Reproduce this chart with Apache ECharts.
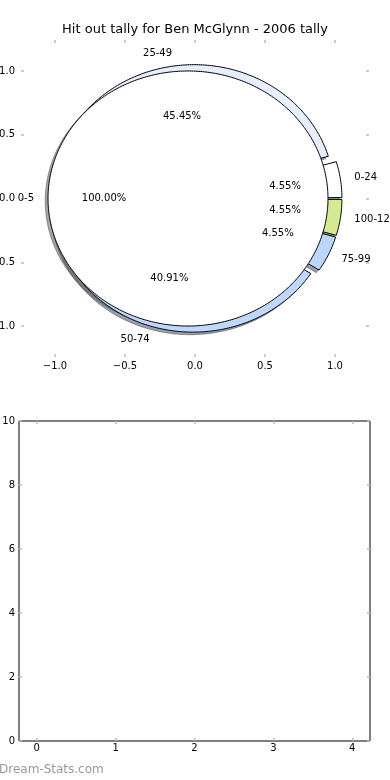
<!DOCTYPE html>
<html>
<head>
<meta charset="utf-8">
<script src="https://cdn.jsdelivr.net/npm/echarts@6/dist/echarts.min.js"></script>
<style>
  html, body { margin: 0; padding: 0; background: #fff; }
  #chart { width: 390px; height: 780px; }
</style>
</head>
<body>
<div id="chart"></div>
<script>
// ---- data ----
const chartTitle = 'Hit out tally for Ben McGlynn - 2006 tally';
const outerLabels = ['0-24', '25-49', '50-74', '75-99', '100-124'];
const outerCounts = [1, 10, 9, 1, 1];
const outerColors = ['#ffffff', '#e6eeff', '#bfd8ff', '#bcd7ff', '#d4eb91'];
const innerLabels = ['0-5'];
const innerCounts = [1];
const innerColors = ['#ffffff'];
const pieTicks = [-1, -0.5, 0, 0.5, 1];
const lowerXTicks = [0, 1, 2, 3, 4];
const watermark = 'Dream-Stats.com';

// ---- styling constants ----
const FONT = 'DejaVu Sans';
const EXPLODE = 0.05;
const RADIUS = 1;
const SHADOW_OFF = -0.02;
const LABEL_DIST = 1.1;
const PCT_DIST = 0.6;
const TICK_COLOR = '#bbbbbb';

function buildWedges(counts) {
  const total = counts.reduce((a, b) => a + b, 0);
  let start = 0;
  return counts.map(c => {
    const span = 360 * c / total;
    const t1 = start, t2 = start + span;
    start = t2;
    const mid = (t1 + t2) / 2 * Math.PI / 180;
    return {
      t1, t2, full: Math.abs(span - 360) < 1e-9,
      dx: EXPLODE * Math.cos(mid), dy: EXPLODE * Math.sin(mid),
      cos: Math.cos(mid), sin: Math.sin(mid),
      pct: (100 * c / total).toFixed(2) + '%'
    };
  });
}
const outerWedges = buildWedges(outerCounts);
const innerWedges = buildWedges(innerCounts);

const allWedges = outerWedges.map((w, i) => ({ w, color: outerColors[i], label: outerLabels[i] }))
  .concat(innerWedges.map((w, i) => ({ w, color: innerColors[i], label: innerLabels[i] })));

function wedgePoints(api, cx, cy, w) {
  const pts = [];
  if (!w.full) pts.push(api.coord([cx, cy]));
  const n = Math.max(4, Math.ceil((w.t2 - w.t1) / 0.75));
  for (let k = 0; k <= n; k++) {
    const a = (w.t1 + (w.t2 - w.t1) * k / n) * Math.PI / 180;
    pts.push(api.coord([cx + RADIUS * Math.cos(a), cy + RADIUS * Math.sin(a)]));
  }
  return pts;
}
function shadeColor(hex) {
  const r = parseInt(hex.slice(1, 3), 16), g = parseInt(hex.slice(3, 5), 16), b = parseInt(hex.slice(5, 7), 16);
  return 'rgba(' + (0.3 * r).toFixed(1) + ',' + (0.3 * g).toFixed(1) + ',' + (0.3 * b).toFixed(1) + ',0.5)';
}
function fmtTick(v) {
  const s = Math.abs(v).toFixed(1);
  return v < 0 ? '\u2212' + s : s;
}

const tickStyle = { show: true, inside: true, length: 3, lineStyle: { color: TICK_COLOR, width: 1.5 } };
const labelBase = { fontSize: 10, fontFamily: FONT, color: '#000' };
const noLine = { show: false, onZero: false };

const chart = echarts.init(document.getElementById('chart'), null, { renderer: 'canvas' });

const option = {
  animation: false,
  backgroundColor: '#ffffff',
  title: {
    text: chartTitle, left: 'center', top: 23, padding: 0,
    textStyle: { fontSize: 13, fontWeight: 'normal', fontFamily: FONT, color: '#000' }
  },
  grid: [
    { left: 21, top: 40, width: 348, height: 317, show: false, outerBoundsMode: 'none', containLabel: false },
    { left: 19, top: 421, width: 351, height: 320, show: true, borderColor: '#000', borderWidth: 1,
      backgroundColor: 'transparent', outerBoundsMode: 'none', containLabel: false }
  ],
  xAxis: [
    { gridIndex: 0, type: 'value', position: 'bottom', min: -1.243, max: 1.243,
      axisLine: noLine, splitLine: { show: false },
      axisTick: Object.assign({ customValues: pieTicks }, tickStyle),
      axisLabel: Object.assign({ customValues: pieTicks, formatter: fmtTick, margin: 4 }, labelBase) },
    { gridIndex: 0, type: 'value', position: 'top', min: -1.243, max: 1.243,
      axisLine: noLine, splitLine: { show: false },
      axisTick: Object.assign({ customValues: pieTicks }, tickStyle),
      axisLabel: { show: false } },
    { gridIndex: 1, type: 'value', position: 'bottom', min: -0.225, max: 4.225,
      axisLine: noLine, splitLine: { show: false },
      axisTick: Object.assign({ customValues: lowerXTicks }, tickStyle),
      axisLabel: Object.assign({ customValues: lowerXTicks, margin: 2 }, labelBase) },
    { gridIndex: 1, type: 'value', position: 'top', min: -0.225, max: 4.225,
      axisLine: noLine, splitLine: { show: false },
      axisTick: Object.assign({ customValues: lowerXTicks }, tickStyle),
      axisLabel: { show: false } }
  ],
  yAxis: [
    { gridIndex: 0, type: 'value', position: 'left', min: -1.243, max: 1.243,
      axisLine: noLine, splitLine: { show: false },
      axisTick: Object.assign({ customValues: pieTicks }, tickStyle),
      axisLabel: Object.assign({ customValues: pieTicks, formatter: fmtTick, margin: 6 }, labelBase) },
    { gridIndex: 0, type: 'value', position: 'right', min: -1.243, max: 1.243,
      axisLine: noLine, splitLine: { show: false },
      axisTick: Object.assign({ customValues: pieTicks }, tickStyle),
      axisLabel: { show: false } },
    { gridIndex: 1, type: 'value', position: 'left', min: 0, max: 10, interval: 2,
      axisLine: noLine, splitLine: { show: false },
      axisTick: tickStyle,
      axisLabel: Object.assign({ margin: 4 }, labelBase) },
    { gridIndex: 1, type: 'value', position: 'right', min: 0, max: 10, interval: 2,
      axisLine: noLine, splitLine: { show: false },
      axisTick: tickStyle,
      axisLabel: { show: false } }
  ],
  graphic: [
    { type: 'text', left: -1, top: 764, z: 100,
      style: { text: watermark, fontSize: 12, fontFamily: FONT, fill: '#999999' } }
  ],
  series: [
    { // shadows
      type: 'custom', xAxisIndex: 0, yAxisIndex: 0, z: 1, silent: true,
      data: allWedges.map((d, i) => [i, 0]),
      renderItem: function (params, api) {
        const d = allWedges[params.dataIndex];
        const cx = d.w.dx + SHADOW_OFF, cy = d.w.dy + SHADOW_OFF;
        const c = shadeColor(d.color);
        return { type: 'polygon', shape: { points: wedgePoints(api, cx, cy, d.w) },
          style: { fill: c, stroke: c, lineWidth: 1 } };
      }
    },
    { // outer wedges
      type: 'custom', xAxisIndex: 0, yAxisIndex: 0, z: 2, silent: true,
      data: outerCounts.map((c, i) => [i, c]),
      renderItem: function (params, api) {
        const w = outerWedges[params.dataIndex];
        return { type: 'polygon', shape: { points: wedgePoints(api, w.dx, w.dy, w) },
          style: { fill: outerColors[params.dataIndex], stroke: '#000', lineWidth: 1 } };
      }
    },
    { // inner pie
      type: 'custom', xAxisIndex: 0, yAxisIndex: 0, z: 3, silent: true,
      data: innerCounts.map((c, i) => [i, c]),
      renderItem: function (params, api) {
        const w = innerWedges[params.dataIndex];
        return { type: 'polygon', shape: { points: wedgePoints(api, w.dx, w.dy, w) },
          style: { fill: innerColors[params.dataIndex], stroke: '#000', lineWidth: 1 } };
      }
    },
    { // labels
      type: 'custom', xAxisIndex: 0, yAxisIndex: 0, z: 4, silent: true,
      data: allWedges.map((d, i) => [i, 0]),
      renderItem: function (params, api) {
        const d = allWedges[params.dataIndex];
        const w = d.w;
        const lx = w.dx + LABEL_DIST * RADIUS * w.cos, ly = w.dy + LABEL_DIST * RADIUS * w.sin;
        const px = w.dx + PCT_DIST * RADIUS * w.cos, py = w.dy + PCT_DIST * RADIUS * w.sin;
        const lp = api.coord([lx, ly]), pp = api.coord([px, py]);
        return { type: 'group', children: [
          { type: 'text', x: lp[0], y: lp[1],
            style: { text: d.label, fontSize: 10, fontFamily: FONT, fill: '#000',
              align: lx > 0 ? 'left' : 'right', verticalAlign: 'middle' } },
          { type: 'text', x: pp[0], y: pp[1],
            style: { text: w.pct, fontSize: 10, fontFamily: FONT, fill: '#000',
              align: 'center', verticalAlign: 'middle' } }
        ] };
      }
    }
  ]
};
chart.setOption(option);
</script>
</body>
</html>
